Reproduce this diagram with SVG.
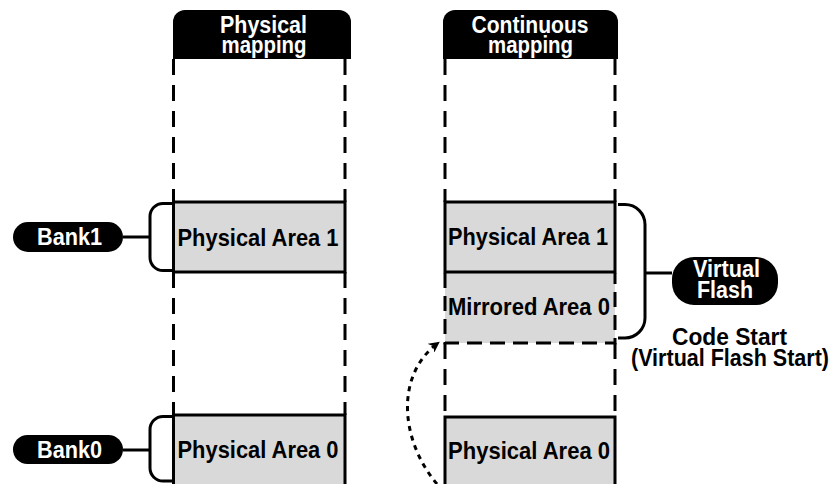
<svg xmlns="http://www.w3.org/2000/svg" width="833" height="484" viewBox="0 0 833 484">
  <defs>
    <style>
      .dash { fill: none; stroke: #000; stroke-width: 3; stroke-dasharray: 16 10; }
      .dash-s { fill: none; stroke: #000; stroke-width: 3; stroke-dasharray: 15 8; }
      .line { fill: none; stroke: #000; stroke-width: 3; }
      .area { fill: #d9d9d9; stroke: #000; stroke-width: 3; }
      .fill { fill: #d9d9d9; }
      .head { fill: #000; }
      .pill { fill: #000; }
      .t { font-family: "Liberation Sans", Arial, Helvetica, sans-serif; font-size: 24px; font-weight: bold; fill: #000; text-anchor: middle; }
      .w { fill: #fff; }
      .dots { fill: none; stroke: #000; stroke-width: 3; stroke-dasharray: 5 5; }
    </style>
    <marker id="arrowhead" viewBox="0 0 10 10" refX="8" refY="5" markerWidth="11" markerHeight="11" markerUnits="userSpaceOnUse" orient="auto">
      <path d="M0,0 L10,5 L0,10 L3,5 Z" fill="#000"/>
    </marker>
  </defs>

  <!-- Physical mapping column -->
  <g id="physical-mapping">
    <path class="head" d="M173,59 V22 A12,12 0 0 1 185,10 H339 A12,12 0 0 1 351,22 V59 Z"/>
    <text class="t w" x="263.5" y="33" textLength="87" lengthAdjust="spacingAndGlyphs">Physical</text>
    <text class="t w" x="264" y="53" textLength="85" lengthAdjust="spacingAndGlyphs">mapping</text>
    <path class="dash" d="M173.5,59 V202 M345,59 V202"/>
    <path class="dash" d="M173.5,272 V415 M345,272 V415"/>
  </g>

  <g id="phys-area-1-left">
    <rect class="area" x="173.5" y="202" width="171.5" height="70"/>
    <text class="t" x="258" y="246" textLength="161" lengthAdjust="spacingAndGlyphs">Physical Area 1</text>
  </g>

  <g id="phys-area-0-left">
    <path class="fill" d="M173.5,415 H345 V490 H173.5 Z"/>
    <path class="line" d="M173.5,490 V415 H345 V490"/>
    <text class="t" x="258" y="458" textLength="161" lengthAdjust="spacingAndGlyphs">Physical Area 0</text>
  </g>

  <!-- Continuous mapping column -->
  <g id="continuous-mapping">
    <path class="head" d="M443,59 V22 A12,12 0 0 1 455,10 H606 A12,12 0 0 1 618,22 V59 Z"/>
    <text class="t w" x="530" y="33" textLength="117" lengthAdjust="spacingAndGlyphs">Continuous</text>
    <text class="t w" x="530.5" y="53" textLength="85" lengthAdjust="spacingAndGlyphs">mapping</text>
    <path class="dash" d="M445,59 V202 M615,59 V202"/>
    <path class="dash" d="M445,343 V417 M615,343 V417"/>
  </g>

  <g id="mirrored-area-0">
    <rect class="fill" x="445" y="272" width="170" height="71"/>
    <path class="dash-s" d="M445,273 V343 H615 V273"/>
    <text class="t" x="529" y="315" textLength="162" lengthAdjust="spacingAndGlyphs">Mirrored Area 0</text>
  </g>

  <g id="phys-area-1-right">
    <rect class="area" x="445" y="202" width="170" height="70"/>
    <text class="t" x="528" y="245" textLength="160" lengthAdjust="spacingAndGlyphs">Physical Area 1</text>
  </g>

  <g id="phys-area-0-right">
    <path class="fill" d="M445,417 H615 V490 H445 Z"/>
    <path class="line" d="M445,490 V417 H615 V490"/>
    <text class="t" x="529" y="459" textLength="162" lengthAdjust="spacingAndGlyphs">Physical Area 0</text>
  </g>

  <!-- Bank labels -->
  <g id="bank1">
    <rect class="pill" x="13" y="222" width="110" height="30" rx="15"/>
    <text class="t w" x="69.5" y="245" textLength="65" lengthAdjust="spacingAndGlyphs">Bank1</text>
  </g>

  <g id="bank0">
    <rect class="pill" x="13" y="435" width="110" height="29" rx="14.5"/>
    <text class="t w" x="69.5" y="458" textLength="65" lengthAdjust="spacingAndGlyphs">Bank0</text>
  </g>

  <!-- Virtual flash label -->
  <g id="virtual-flash">
    <rect class="pill" x="672" y="257" width="106" height="48" rx="22"/>
    <text class="t w" x="726.5" y="277" textLength="67" lengthAdjust="spacingAndGlyphs">Virtual</text>
    <text class="t w" x="725" y="298" textLength="56" lengthAdjust="spacingAndGlyphs">Flash</text>
  </g>

  <g id="code-start">
    <text class="t" x="729.5" y="345" textLength="115" lengthAdjust="spacingAndGlyphs">Code Start</text>
    <text class="t" x="730" y="366" textLength="198" lengthAdjust="spacingAndGlyphs">(Virtual Flash Start)</text>
  </g>

  <!-- Brackets, leader lines and the remap arrow -->
  <g id="connectors">
    <path class="line" d="M174,203.5 H163 A13,13 0 0 0 150,216.5 V257.5 A13,13 0 0 0 163,270.5 H174"/>
    <path class="line" d="M123,237 H150"/>
    <path class="line" d="M174,416.5 H163 A13,13 0 0 0 150,429.5 V468 A13,13 0 0 0 163,481 H174"/>
    <path class="line" d="M123,450 H150"/>
    <path class="line" d="M618,204.5 H625 A20,20 0 0 1 645,224.5 V318 A20,20 0 0 1 625,338 H618"/>
    <path class="line" d="M645,273 H672"/>
    <path class="dots" d="M437,484 C400,440 395,375 438,343" marker-end="url(#arrowhead)"/>
  </g>
</svg>
